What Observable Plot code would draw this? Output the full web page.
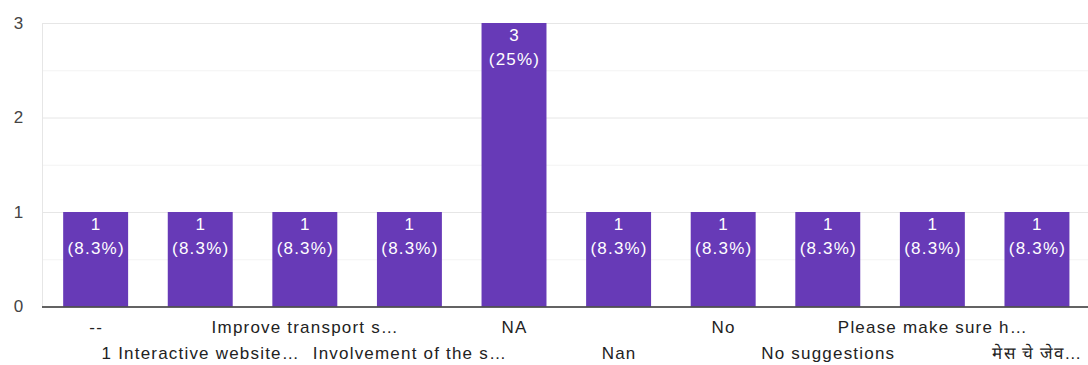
<!DOCTYPE html>
<html><head><meta charset="utf-8">
<script src="https://cdn.jsdelivr.net/npm/d3@7"></script>
<script src="https://cdn.jsdelivr.net/npm/@observablehq/plot@0.6"></script>
<style>
body{margin:0;background:#fff;}
#chart svg{font-family: Arial, "Liberation Sans", sans-serif;}
#chart svg text{letter-spacing: 1.2px;}
</style>
</head><body><div id="chart"></div>
<script>
const categories = ["--", "1 Interactive website…", "Improve transport s…", "Involvement of the s…", "NA", "Nan", "No", "No suggestions", "Please make sure h…", "मेस चे जेव…"];
const counts = [1, 1, 1, 1, 3, 1, 1, 1, 1, 1];
const yTicks = [0, 1, 2, 3];
const minorTicks = [0.5, 1.5, 2.5];

const total = d3.sum(counts);
const data = categories.map((c, i) => ({
  category: c,
  count: counts[i],
  label: `${counts[i]}\n(${+(counts[i] / total * 100).toFixed(1)}%)`
}));
const evenCats = categories.filter((d, i) => i % 2 === 0);
const oddCats = categories.filter((d, i) => i % 2 === 1);

const chart = Plot.plot({
  width: 1088,
  height: 365,
  marginLeft: 42,
  marginRight: 0,
  marginTop: 23,
  marginBottom: 58.5,
  style: {fontSize: "17px", color: "#222", background: "#fff"},
  x: {domain: categories, range: [43.3, 1089.3], paddingInner: 0.379, paddingOuter: 0.19, round: false},
  y: {domain: [0, 3], range: [306.5, 23]},
  marks: [
    Plot.ruleY(minorTicks, {stroke: "#f3f3f3", strokeWidth: 1}),
    Plot.ruleY(yTicks, {stroke: "#e6e6e6", strokeWidth: 1}),
    Plot.frame({anchor: "left", stroke: "#e6e6e6"}),
    Plot.barY(data, {x: "category", y: "count", fill: "#673ab7"}),
    Plot.text(data, {
      x: "category", y: "count", text: "label",
      fill: "#ffffff", fontSize: 17, lineAnchor: "top", lineHeight: 1.38, dy: 1
    }),
    Plot.ruleY([0], {stroke: "#333", strokeWidth: 1.5}),
    Plot.axisY(yTicks, {tickSize: 0, tickPadding: 18, fill: "#444", label: null, fontSize: 17, tickFormat: "d"}),
    Plot.axisX(evenCats, {tickSize: 0, tickPadding: 14, label: null, fill: "#222", fontSize: 17}),
    Plot.axisX(oddCats, {tickSize: 0, tickPadding: 40, label: null, fill: "#222", fontSize: 17})
  ]
});
document.getElementById("chart").append(chart);
</script>
</body></html>
